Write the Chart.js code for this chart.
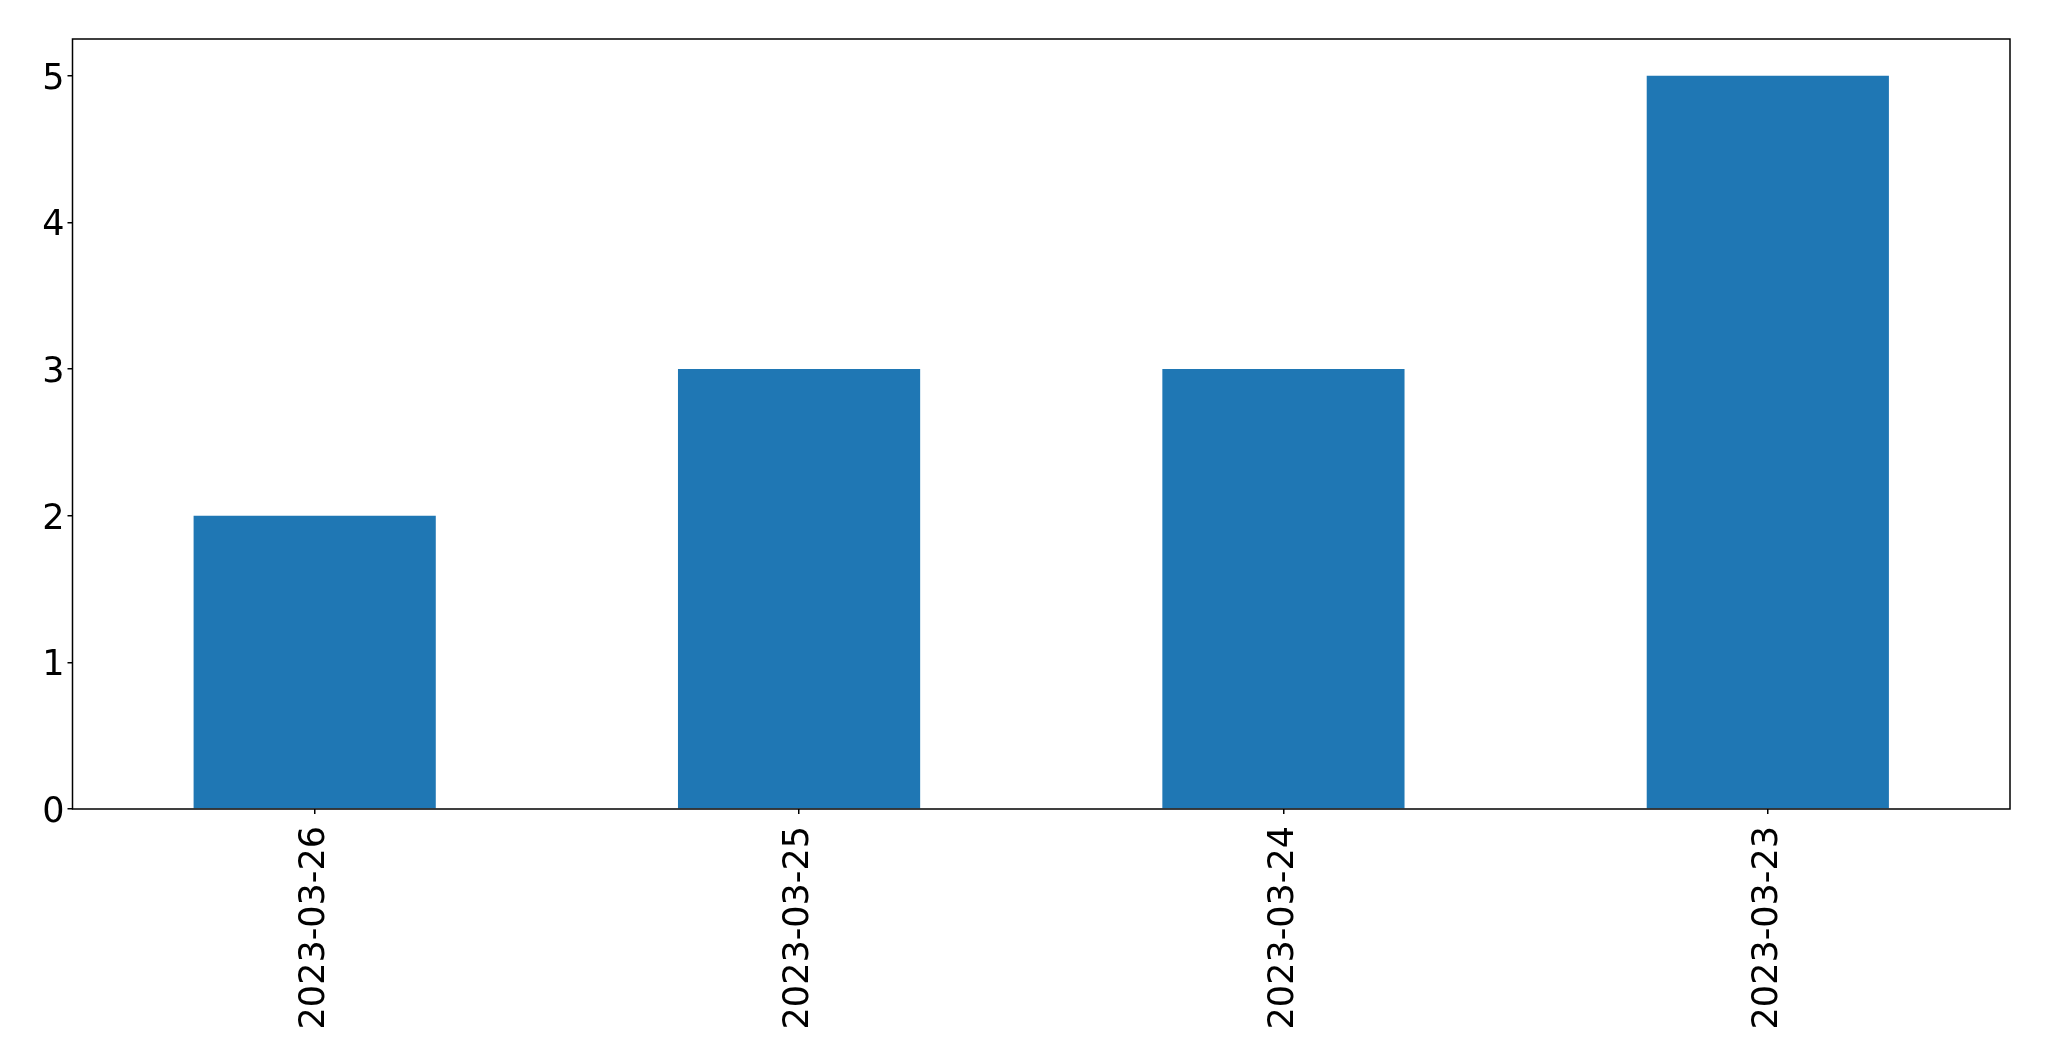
<!DOCTYPE html>
<html>
<head>
<meta charset="utf-8">
<script src="https://cdn.jsdelivr.net/npm/chart.js@4"></script>
<style>
html,body{margin:0;padding:0;background:#fff;}
#c{display:block;}
</style>
</head>
<body>
<canvas id="c" width="2049" height="1061"></canvas>
<script>
const categories = ["2023-03-26", "2023-03-25", "2023-03-24", "2023-03-23"];
const counts = [2, 3, 3, 5];
const yTicks = [0, 1, 2, 3, 4, 5];

const frame = {
  id: 'frame',
  afterDatasetsDraw(chart) {
    const a = chart.chartArea, ctx = chart.ctx;
    ctx.save();
    ctx.strokeStyle = '#000';
    ctx.lineWidth = 1.5;
    ctx.strokeRect(a.left, a.top, a.right - a.left, a.bottom - a.top);
    ctx.restore();
  }
};

new Chart(document.getElementById('c'), {
  type: 'bar',
  data: {
    labels: categories,
    datasets: [{
      data: counts,
      backgroundColor: '#1f77b4',
      borderWidth: 0,
      categoryPercentage: 0.5,
      barPercentage: 1.0
    }]
  },
  options: {
    responsive: false,
    animation: false,
    devicePixelRatio: 1,
    layout: { padding: { top: 39, right: 39, left: 0, bottom: 0 } },
    plugins: { legend: { display: false }, tooltip: { enabled: false } },
    scales: {
      x: {
        offset: true,
        grid: { display: true, drawOnChartArea: false, drawTicks: true, tickLength: 5, color: '#000', lineWidth: 1.5, offset: false },
        border: { display: false },
        ticks: { color: '#000', font: { family: 'DejaVu Sans', size: 35 }, minRotation: 90, maxRotation: 90, padding: 12, autoSkip: false },
        afterFit(s) { s.height = 252; }
      },
      y: {
        min: 0, max: 5.25,
        afterBuildTicks(s) { s.ticks = yTicks.map(v => ({ value: v })); },
        grid: { display: true, drawOnChartArea: false, drawTicks: true, tickLength: 5, color: '#000', lineWidth: 1.5 },
        border: { display: false },
        ticks: { color: '#000', font: { family: 'DejaVu Sans', size: 35 }, padding: 3, labelOffset: 4 },
        afterFit(s) { s.width = 72.5; }
      }
    }
  },
  plugins: [frame]
});
</script>
</body>
</html>
